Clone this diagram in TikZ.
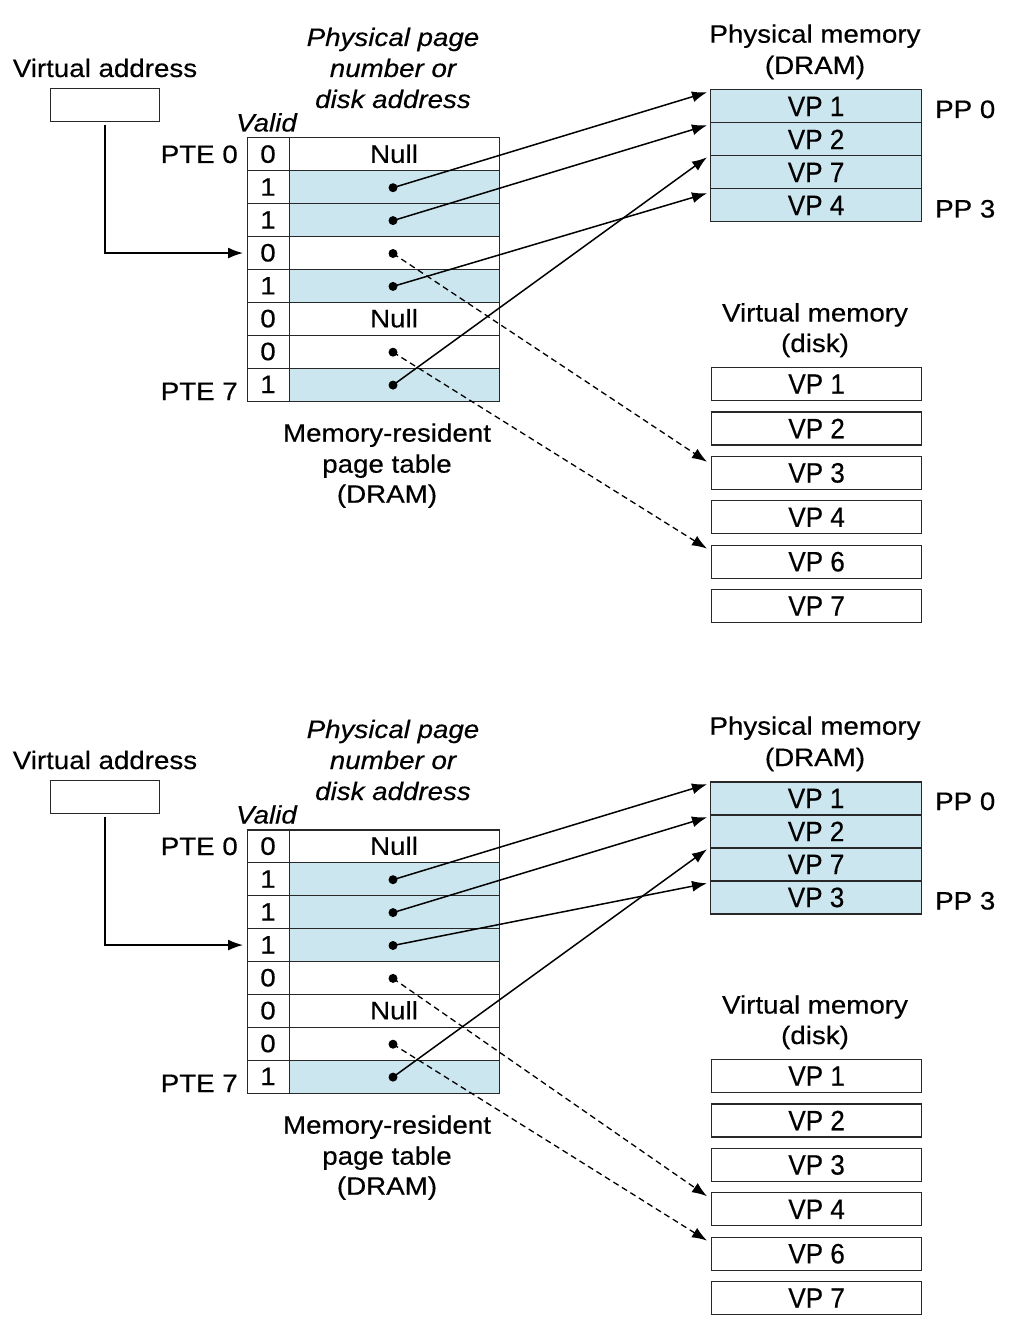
\documentclass[tikz,border=0pt]{standalone}
\usepackage{fontspec}
\setmainfont{Liberation Sans}
\newfontfamily\wfont{Liberation Sans}[FakeStretch=1.1,FakeBold=0.4]
\newfontfamily\vfont{Liberation Sans}[FakeStretch=0.93,FakeBold=0.4]
\usetikzlibrary{arrows.meta}
\definecolor{pblue}{RGB}{204,230,239}
\definecolor{edge}{RGB}{40,40,40}
\tikzset{
  txt/.style={font=\wfont\fontsize{25.2}{31}\selectfont, inner sep=0pt},
  lbl/.style={txt, anchor=base},
  vptxt/.style={font=\vfont\fontsize{28}{32}\selectfont},
  cell/.style={draw=edge, line width=1.2pt, minimum height=32.9pt, inner sep=0pt, anchor=north west},
  pcell/.style={cell, fill=pblue, minimum width=211pt, minimum height=33pt, vptxt},
  dcell/.style={cell, fill=white, minimum width=210pt, minimum height=33pt, vptxt},
  vabox/.style={cell, minimum width=109pt, minimum height=33pt},
  arr/.style={line width=1.5pt, -{Latex[length=15pt,width=11pt]}},
  darr/.style={arr, line width=1.3pt, dash pattern=on 6pt off 4pt},
  dot/.style={fill=black}
}
\newcommand\mypanel[3]{%
  \node[vabox] (#1va) at (50,88) {};
  \node[lbl] (#1valbl) at (105,77) {Virtual address};
  \node[lbl] (#1ph1) at (393,46) {\itshape Physical page};
  \node[lbl] (#1ph2) at (393,77) {\itshape number or};
  \node[lbl] (#1ph3) at (393,108) {\itshape disk address};
  \node[lbl] (#1valid) at (266.5,131.5) {\itshape Valid};
  \node[lbl, anchor=base east] (#1pte0) at (238,163) {PTE 0};
  \node[lbl, anchor=base east] (#1pte7) at (238,400) {PTE 7};
  \foreach \b/\c/\k [count=\i from 0] in {#2} {
    \pgfmathsetmacro\rtop{137.3+32.9*\i}
    \node[cell, minimum width=42pt, fill=white] (#1v\i) at (247,\rtop) {};
    \node[cell, minimum width=210pt, fill=\c] (#1c\i) at (289,\rtop) {};
    \node[lbl] (#1b\i) at (268,\rtop+25.5) {\b};
    \if\k N
      \node[lbl] (#1n\i) at (394,\rtop+25.5) {Null};
    \else
      \coordinate (#1d\i) at (393,\rtop+17.5);
      \fill[dot] (#1d\i) circle (4.5pt);
    \fi
  }
  \foreach \l [count=\j from 0] in {#3}
    \node[pcell] (#1p\j) at (710,89.3+33*\j) {VP \l};
  \node[lbl] (#1pm1) at (815,42.7) {Physical memory};
  \node[lbl] (#1pm2) at (815,74) {(DRAM)};
  \node[lbl, anchor=base west] (#1pp0) at (935,118) {PP 0};
  \node[lbl, anchor=base west] (#1pp3) at (935,217.5) {PP 3};
  \foreach \l [count=\j from 0] in {1,2,3,4,6,7}
    \node[dcell] (#1k\l) at (711,367+44.4*\j) {VP \l};
  \node[lbl] (#1vm1) at (815,321.5) {Virtual memory};
  \node[lbl] (#1vm2) at (815,352) {(disk)};
  \node[lbl] (#1mr1) at (387,441.7) {Memory-resident};
  \node[lbl] (#1mr2) at (387,472.7) {page table};
  \node[lbl] (#1mr3) at (387,502.7) {(DRAM)};
  \draw[arr] ([yshift=-2.5pt]#1va.south) |- ([xshift=-4pt]#1v3.west);
}
\begin{document}
\begin{tikzpicture}[x=1pt,y=-1pt]
\useasboundingbox (0,0) rectangle (1016,1340);
% top panel
\mypanel{t}{0/white/N,1/pblue/D,1/pblue/D,0/white/D,1/pblue/D,0/white/N,0/white/D,1/pblue/D}{1,2,7,4}
\draw[arr] (td1) -- ([xshift=-3pt,yshift=-3pt]tp0.north west);
\draw[arr] (td2) -- ([xshift=-3pt,yshift=-3pt]tp1.north west);
\draw[arr] (td4) -- ([xshift=-3pt,yshift=-5pt]tp3.north west);
\draw[arr] (td7) -- ([xshift=-3pt,yshift=-2pt]tp2.north west);
\draw[darr] (td3) -- ([xshift=-4pt,yshift=-6pt]tk3.north west);
\draw[darr] (td6) -- ([xshift=-4pt,yshift=-4pt]tk6.north west);
% bottom panel
\begin{scope}[shift={(0,692)}]
\mypanel{b}{0/white/N,1/pblue/D,1/pblue/D,1/pblue/D,0/white/D,0/white/N,0/white/D,1/pblue/D}{1,2,7,3}
\end{scope}
\draw[arr] (bd1) -- ([xshift=-3pt,yshift=-3pt]bp0.north west);
\draw[arr] (bd2) -- ([xshift=-3pt,yshift=-3pt]bp1.north west);
\draw[arr] (bd3) -- ([xshift=-3pt,yshift=-3pt]bp3.north west);
\draw[arr] (bd7) -- ([xshift=-3pt,yshift=-2pt]bp2.north west);
\draw[darr] (bd4) -- ([xshift=-4pt,yshift=-4pt]bk4.north west);
\draw[darr] (bd6) -- ([xshift=-4pt,yshift=-4pt]bk6.north west);
\end{tikzpicture}
\end{document}
